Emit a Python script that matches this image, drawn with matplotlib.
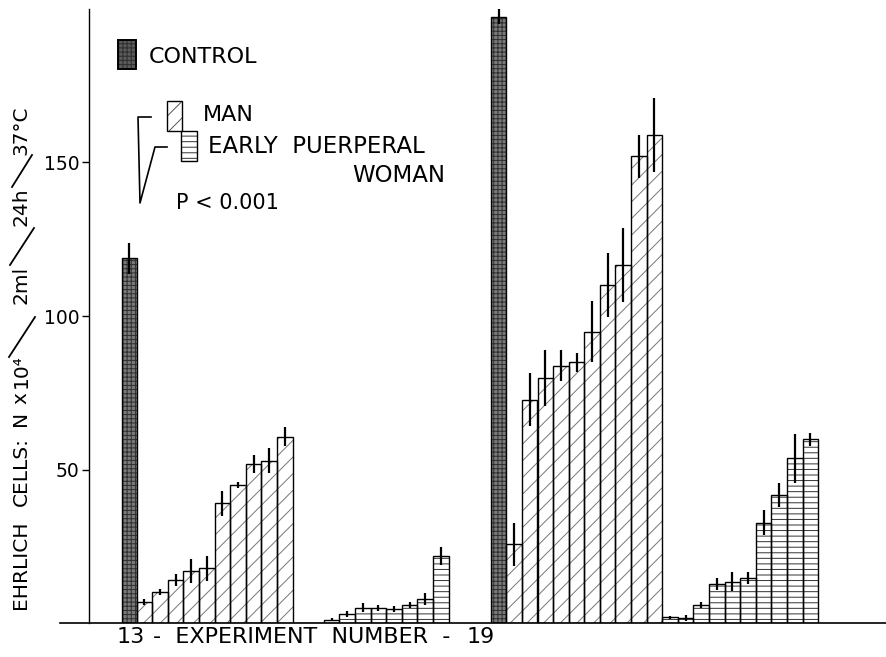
import matplotlib
matplotlib.use("Agg")
import matplotlib.pyplot as plt
from matplotlib.patches import Rectangle
from matplotlib.lines import Line2D
import numpy as np

plt.rcParams['font.family'] = ['DejaVu Sans']
plt.rcParams['hatch.linewidth'] = 0.7

# ---- data ----
experiments = ["13", "19"]
control = [118.8, 197.5]
control_err = [5.0, 2.5]
man_13 = [6.9, 10.0, 14.0, 16.9, 17.8, 39.0, 45.0, 51.8, 52.9, 60.7]
man_13_err = [1, 1, 2, 4, 4, 4, 1, 3, 4, 3]
woman_13 = [0, 0, 1.0, 2.9, 5.0, 4.8, 4.6, 5.9, 7.8, 21.9]
woman_13_err = [0, 0, 0.5, 1, 1.5, 1, 1, 1, 2, 3]
man_19 = [25.7, 72.8, 79.8, 83.8, 84.9, 94.9, 110.1, 116.7, 152.0, 159.0]
man_19_err = [7, 8.5, 9, 5, 3, 10, 10.5, 12, 7, 12]
woman_19 = [1.8, 1.5, 5.9, 12.7, 13.5, 14.6, 32.7, 41.7, 53.6, 59.8]
woman_19_err = [0.5, 1, 1, 2, 3, 2, 4, 4, 8, 2]
y_ticks = [50, 100, 150]

W, H = 887, 657
fig = plt.figure(figsize=(W / 100, H / 100), dpi=100)
fig.patch.set_facecolor('white')

def fx(px):
    return px / W

def fy(py):
    return 1 - py / H

ax_left, ax_bottom = fx(89), fy(623)
ax = fig.add_axes([ax_left, ax_bottom, 1 - ax_left, fy(9) - ax_bottom])
XMAX = (887 - 89) / 15.6
ax.set_xlim(0, XMAX)
ax.set_ylim(0, 200)

group_starts = [2.1, 25.8]
mans = [man_13, man_19]
mans_err = [man_13_err, man_19_err]
womans = [woman_13, woman_19]
womans_err = [woman_13_err, woman_19_err]

ctrl_face = '#7a7a7a'
ctrl_hatch_col = '#2e2e2e'
for g, start in enumerate(group_starts):
    # control bar
    ax.bar(start, control[g], width=0.95, align='edge', color=ctrl_face,
           edgecolor=ctrl_hatch_col, hatch='++++', linewidth=0, zorder=2)
    ax.bar(start, control[g], width=0.95, align='edge', fill=False,
           edgecolor='black', linewidth=1.0, zorder=3)
    ax.errorbar(start + 0.475, control[g], yerr=control_err[g], fmt='none',
                ecolor='black', elinewidth=1.6, capsize=0, zorder=4)
    # man bars
    xm = start + 0.95 + np.arange(len(mans[g]))
    ax.bar(xm, mans[g], width=1.0, align='edge', color='white',
           edgecolor='#777777', hatch='//', linewidth=0, zorder=2)
    ax.bar(xm, mans[g], width=1.0, align='edge', fill=False,
           edgecolor='black', linewidth=1.0, zorder=3)
    ax.errorbar(xm + 0.5, mans[g], yerr=mans_err[g], fmt='none',
                ecolor='black', elinewidth=1.6, capsize=0, zorder=4)
    # woman bars
    xw = xm[-1] + 1 + np.arange(len(womans[g]))
    ax.bar(xw, womans[g], width=1.0, align='edge', color='white',
           edgecolor='#333333', hatch='---', linewidth=0, zorder=2)
    ax.bar(xw, womans[g], width=1.0, align='edge', fill=False,
           edgecolor='black', linewidth=1.0, zorder=3)
    wv = np.array(womans[g]); we = np.array(womans_err[g])
    mask = wv > 0
    ax.errorbar(xw[mask] + 0.5, wv[mask], yerr=we[mask], fmt='none',
                ecolor='black', elinewidth=1.6, capsize=0, zorder=4)

# baseline extending slightly left of the y axis
ax.plot([-29 / 15.6, XMAX], [0, 0], color='black', linewidth=1.2,
        clip_on=False, zorder=5)

for s in ['top', 'right', 'bottom']:
    ax.spines[s].set_visible(False)
ax.spines['left'].set_linewidth(1.0)
ax.set_xticks([])
ax.set_yticks(y_ticks)
ax.set_yticklabels([str(t) for t in y_ticks], fontsize=13.5)
ax.tick_params(axis='y', direction='out', length=5, width=1.0, pad=2)

# y label: rotated words placed along the left edge, with tall thin slashes
YL_X = 21
ylabel_words = [("EHRLICH", 565), ("CELLS:", 472), ("N", 418), ("x", 398),
                ("10\u2074", 371), ("2ml", 285), ("24h", 207), ("37\u00b0C", 130)]
for s, yc in ylabel_words:
    fig.text(fx(YL_X), fy(yc), s, rotation=90, ha='center', va='center',
             fontsize=14.5)
for (ybot, ytop, half) in [(357, 317, 13), (265, 228, 12), (187, 155, 10)]:
    fig.add_artist(Line2D([fx(YL_X + 1 - half), fx(YL_X + 1 + half)],
                          [fy(ybot), fy(ytop)],
                          transform=fig.transFigure, color='black', linewidth=1.3))

# x label
fig.text(fx(117), fy(637), "13", ha='left', va='center', fontsize=16)
fig.text(fx(302), fy(637), "-  EXPERIMENT  NUMBER  -", ha='center', va='center',
         fontsize=16)
fig.text(fx(495), fy(637), "19", ha='right', va='center', fontsize=16)

# legend (drawn manually)
def box(x0, y0, x1, y1, **kw):
    r = Rectangle((fx(x0), fy(y1)), fx(x1) - fx(x0), fy(y0) - fy(y1),
                  transform=fig.transFigure, **kw)
    fig.add_artist(r)

box(118, 40, 136, 69, facecolor='#5a5a5a', edgecolor=ctrl_hatch_col, hatch='++++', linewidth=0)
box(118, 40, 136, 69, fill=False, edgecolor='black', linewidth=1.4)
box(167, 101, 182, 131, facecolor='white', edgecolor='#555555', hatch='//', linewidth=0)
box(167, 101, 182, 131, fill=False, edgecolor='black', linewidth=1.0)
box(181, 131, 197, 161, facecolor='white', edgecolor='#333333', hatch='---', linewidth=0)
box(181, 131, 197, 161, fill=False, edgecolor='black', linewidth=1.0)

fig.text(fx(149), fy(57), "CONTROL", ha='left', va='center', fontsize=16)
fig.text(fx(203), fy(115), "MAN", ha='left', va='center', fontsize=16)
fig.text(fx(208), fy(147), "EARLY  PUERPERAL", ha='left', va='center', fontsize=16.5)
fig.text(fx(445), fy(176), "WOMAN", ha='right', va='center', fontsize=16.5)
fig.text(fx(176), fy(203), "P < 0.001", ha='left', va='center', fontsize=15)

bx = [151, 138, 140, 155, 167]
by = [117, 117, 203, 147, 147]
fig.add_artist(Line2D([fx(v) for v in bx], [fy(v) for v in by],
                      transform=fig.transFigure, color='black', linewidth=1.2))

fig.savefig("out.png", dpi=100, facecolor='white')
